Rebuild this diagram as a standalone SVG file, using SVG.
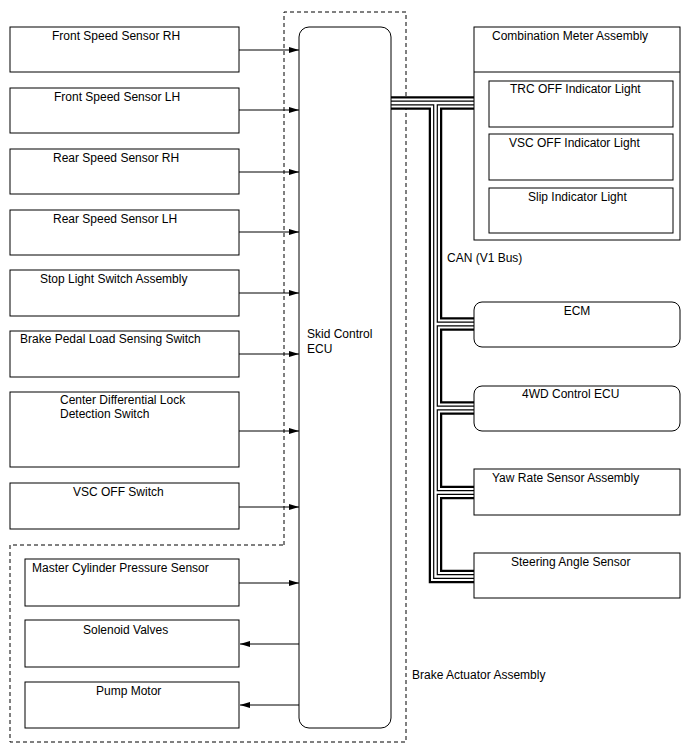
<svg xmlns="http://www.w3.org/2000/svg" width="688" height="755" viewBox="0 0 688 755">
<style>
  text { font-family: "Liberation Sans", Arial, sans-serif; font-size: 12px; fill: #000; }
  .box { fill: #fff; stroke: #000; stroke-width: 1; }
  .ln { fill: none; stroke: #000; stroke-width: 1; }
  .dash { fill: none; stroke: #000; stroke-width: 1; stroke-dasharray: 4 3; }
  .b1 { fill: none; stroke: #000; stroke-width: 13.5; stroke-linejoin: miter; }
  .b2 { fill: none; stroke: #fff; stroke-width: 9; stroke-linejoin: miter; }
  .b3 { fill: none; stroke: #000; stroke-width: 4.8; stroke-linejoin: miter; }
  .b4 { fill: none; stroke: #fff; stroke-width: 2.4; stroke-linejoin: miter; }
</style>
<defs>
  <marker id="ah" markerWidth="10" markerHeight="6" refX="10" refY="3" orient="auto" markerUnits="userSpaceOnUse">
    <path d="M0,0 L10,3 L0,6 Z" fill="#000"/>
  </marker>
  <path id="bus" d="M391,103 H474 M435.5,103 V576.5 H474 M435.5,324 H474 M435.5,408 H474 M435.5,492.5 H474"/>
</defs>
<rect width="688" height="755" fill="#fff"/>

<g id="brake-actuator-boundary">
  <path class="dash" d="M284,545 V12 H406 V742 H10 V545 Z"/>
  <text x="412" y="679">Brake Actuator Assembly</text>
</g>

<g id="connectors">
  <path class="ln" d="M239,50 H299" marker-end="url(#ah)"/>
  <path class="ln" d="M239,110 H299" marker-end="url(#ah)"/>
  <path class="ln" d="M239,172 H299" marker-end="url(#ah)"/>
  <path class="ln" d="M239,232 H299" marker-end="url(#ah)"/>
  <path class="ln" d="M239,293 H299" marker-end="url(#ah)"/>
  <path class="ln" d="M239,354 H299" marker-end="url(#ah)"/>
  <path class="ln" d="M239,431 H299" marker-end="url(#ah)"/>
  <path class="ln" d="M239,507 H299" marker-end="url(#ah)"/>
  <path class="ln" d="M239,583 H299" marker-end="url(#ah)"/>
  <path class="ln" d="M299,644 H240" marker-end="url(#ah)"/>
  <path class="ln" d="M299,705 H240" marker-end="url(#ah)"/>
  <g id="can-bus">
    <use href="#bus" class="b1"/>
    <use href="#bus" class="b2"/>
    <use href="#bus" class="b3"/>
    <use href="#bus" class="b4"/>
  </g>
  <text x="447" y="262">CAN (V1 Bus)</text>
</g>

<g id="front-speed-rh"><rect class="box" x="10" y="27" width="229" height="45"/><text x="52" y="40">Front Speed Sensor RH</text></g>
<g id="front-speed-lh"><rect class="box" x="10" y="88" width="229" height="45"/><text x="54" y="101">Front Speed Sensor LH</text></g>
<g id="rear-speed-rh"><rect class="box" x="10" y="149" width="229" height="45"/><text x="53" y="162">Rear Speed Sensor RH</text></g>
<g id="rear-speed-lh"><rect class="box" x="10" y="210" width="229" height="45"/><text x="53" y="223">Rear Speed Sensor LH</text></g>
<g id="stop-light-switch"><rect class="box" x="10" y="270" width="229" height="46"/><text x="40" y="283">Stop Light Switch Assembly</text></g>
<g id="brake-pedal-switch"><rect class="box" x="10" y="331" width="229" height="46"/><text x="20" y="343">Brake Pedal Load Sensing Switch</text></g>
<g id="center-diff-switch"><rect class="box" x="10" y="392" width="229" height="75"/><text x="60" y="404">Center Differential Lock</text><text x="60" y="418">Detection Switch</text></g>
<g id="vsc-off-switch"><rect class="box" x="10" y="483" width="229" height="46"/><text x="73" y="496">VSC OFF Switch</text></g>
<g id="master-cylinder"><rect class="box" x="25" y="559" width="214" height="47"/><text x="32" y="572">Master Cylinder Pressure Sensor</text></g>
<g id="solenoid-valves"><rect class="box" x="25" y="620" width="214" height="47"/><text x="83" y="634">Solenoid Valves</text></g>
<g id="pump-motor"><rect class="box" x="25" y="682" width="214" height="46"/><text x="96" y="695">Pump Motor</text></g>

<g id="skid-control-ecu"><rect class="box" x="299" y="27" width="92" height="701" rx="10" ry="10"/><text x="307" y="338">Skid Control</text><text x="307" y="353">ECU</text></g>

<g id="combination-meter">
  <rect class="box" x="474" y="27" width="206" height="213"/>
  <path class="ln" d="M474,72 H680"/>
  <text x="492" y="40">Combination Meter Assembly</text>
</g>
<g id="trc-off-light"><rect class="box" x="489" y="81" width="184" height="46"/><text x="510" y="93">TRC OFF Indicator Light</text></g>
<g id="vsc-off-light"><rect class="box" x="489" y="134" width="184" height="46"/><text x="509" y="147">VSC OFF Indicator Light</text></g>
<g id="slip-light"><rect class="box" x="489" y="188" width="184" height="45"/><text x="528" y="201">Slip Indicator Light</text></g>

<g id="ecm"><rect class="box" x="474" y="302" width="206" height="45" rx="8" ry="8"/><text x="577" y="315" text-anchor="middle">ECM</text></g>
<g id="4wd-ecu"><rect class="box" x="474" y="386" width="206" height="45" rx="8" ry="8"/><text x="522" y="398">4WD Control ECU</text></g>
<g id="yaw-rate-sensor"><rect class="box" x="474" y="469" width="206" height="46"/><text x="492" y="482">Yaw Rate Sensor Assembly</text></g>
<g id="steering-angle-sensor"><rect class="box" x="474" y="553" width="206" height="45"/><text x="511" y="566">Steering Angle Sensor</text></g>
</svg>
